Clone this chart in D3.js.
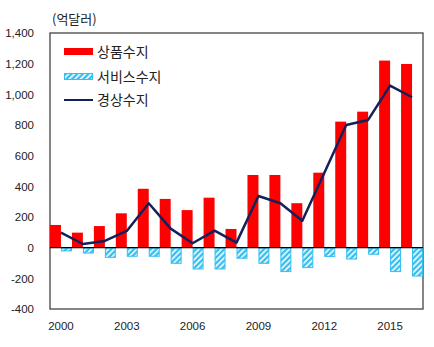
<!DOCTYPE html>
<html><head><meta charset="utf-8">
<script src="https://cdn.jsdelivr.net/npm/d3@7"></script>
<style>body{margin:0;background:#fff}svg{display:block}</style>
</head><body>
<script>
const years = [2000,2001,2002,2003,2004,2005,2006,2007,2008,2009,2010,2011,2012,2013,2014,2015,2016];
const goods = [148,98,141,224,384,318,245,326,122,474,474,290,489,822,887,1220,1198];
const services = [-21,-35,-63,-56,-56,-102,-139,-139,-69,-102,-156,-130,-57,-74,-43,-156,-185];
const current = [98,24,44,109,290,124,29,111,33,337,290,176,487,800,833,1057,981];
const yTicks = [-400,-200,0,200,400,600,800,1000,1200,1400];
const xTickLabels = [2000,2003,2006,2009,2012,2015];
const seriesNames = ["상품수지","서비스수지","경상수지"];
const unitLabel = "(억달러)";

const W = 434, H = 347;
const L = 50, R = 423, T = 33, B = 309;
const svg = d3.select("body").append("svg").attr("width", W).attr("height", H);

const defs = svg.append("defs");
const pat = defs.append("pattern").attr("id","hatch").attr("patternUnits","userSpaceOnUse")
  .attr("width",4).attr("height",4).attr("patternTransform","rotate(45)");
pat.append("rect").attr("width",4).attr("height",4).attr("fill","#33bff0");
pat.append("rect").attr("x",0).attr("y",0).attr("width",1.6).attr("height",4).attr("fill","#ffffff");

const x = d3.scaleBand().domain(years).range([L, R]).padding(0);
const y = d3.scaleLinear().domain([-400, 1400]).range([B, T]);
const bw = x.bandwidth();

// frame
svg.append("rect").attr("x",L).attr("y",T).attr("width",R-L).attr("height",B-T)
  .attr("fill","none").attr("stroke","#444").attr("stroke-width",1.3);

// goods bars
svg.append("g").selectAll("rect").data(years).join("rect")
  .attr("x", d => x(d))
  .attr("width", bw/2)
  .attr("y", (d,i) => y(Math.max(0, goods[i])))
  .attr("height", (d,i) => Math.abs(y(goods[i]) - y(0)))
  .attr("fill", "#ff0000");

// services bars
svg.append("g").selectAll("rect").data(years).join("rect")
  .attr("x", d => x(d) + bw/2 + 0.5)
  .attr("width", bw/2 - 1)
  .attr("y", (d,i) => y(Math.max(0, services[i])) + 0.5)
  .attr("height", (d,i) => Math.abs(y(services[i]) - y(0)) - 0.5)
  .attr("fill", "url(#hatch)")
  .attr("stroke", "#33bff0").attr("stroke-width", 1);

// zero line
svg.append("line").attr("x1",L).attr("x2",R).attr("y1",y(0)).attr("y2",y(0))
  .attr("stroke","#000").attr("stroke-width",1.2);

// current account line
const line = d3.line().x((d,i) => x(years[i]) + bw/2).y(d => y(d));
svg.append("path").datum(current).attr("d", line)
  .attr("fill","none").attr("stroke","#14205a").attr("stroke-width",2.5)
  .attr("stroke-linejoin","round");

// y axis labels
const fmt = d3.format(",");
const yAxis = d3.axisLeft(y).tickValues(yTicks).tickSize(0).tickPadding(16)
  .tickFormat(d => fmt(d).replace("\u2212", "-"));
const gy = svg.append("g").attr("transform",`translate(${L},0)`).call(yAxis);
gy.select(".domain").remove();
gy.selectAll("text").attr("font-family","'Liberation Sans', Arial, sans-serif")
  .attr("font-size",11.5).attr("fill","#222");

// x axis labels
const xAxis = d3.axisBottom(x).tickValues(xTickLabels).tickSize(0).tickPadding(13);
const gx = svg.append("g").attr("transform",`translate(0,${B})`).call(xAxis);
gx.select(".domain").remove();
gx.selectAll("text").attr("font-family","'Liberation Sans', Arial, sans-serif")
  .attr("font-size",11.5).attr("fill","#222");

// unit label
svg.append("text").attr("x",52).attr("y",24).text(unitLabel)
  .attr("font-family","'Noto Sans CJK KR', sans-serif").attr("font-size",13).attr("fill","#222");

// legend
const lg = svg.append("g").attr("font-family","'Noto Sans CJK KR', sans-serif").attr("font-size",14).attr("fill","#222");
lg.append("rect").attr("x",64).attr("y",48).attr("width",29).attr("height",7).attr("fill","#ff0000");
lg.append("rect").attr("x",64.5).attr("y",73.5).attr("width",28).attr("height",6).attr("fill","url(#hatch)").attr("stroke","#33bff0");
lg.append("line").attr("x1",64).attr("x2",93).attr("y1",100).attr("y2",100).attr("stroke","#14205a").attr("stroke-width",2);
[52,77,100].forEach((cy,i) => {
  lg.append("text").attr("x",97).attr("y",cy).attr("dy","0.36em").text(seriesNames[i]).attr("fill","#222");
});
</script>
</body></html>
